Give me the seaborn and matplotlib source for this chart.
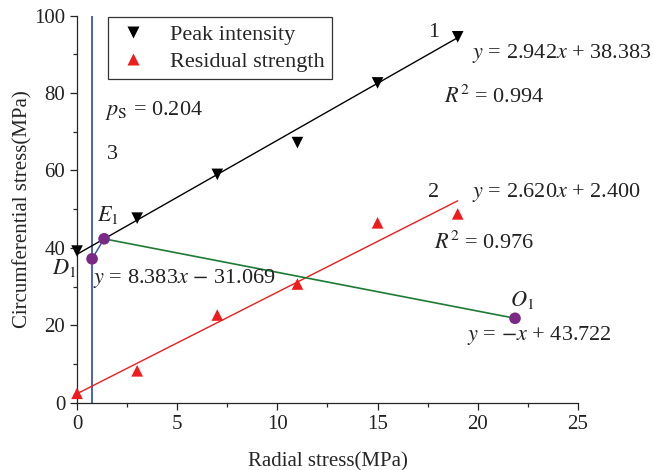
import numpy as np
import pandas as pd
import matplotlib
matplotlib.use("Agg")
import matplotlib.pyplot as plt
from matplotlib.ticker import MultipleLocator
import seaborn as sns

# data
radial = [0, 3, 7, 11, 15, 19]
peak = [39.2, 47.7, 59.0, 67.2, 82.6, 94.5]
residual = [2.5, 8.3, 22.7, 30.7, 46.5, 48.8]

# fit coefficients printed on the chart (slope, intercept)
peak_fit = (2.942, 38.383)
resid_fit = (2.620, 2.400)
fit_x = [0, 19]

# special points
ps_x = 0.75
D1 = (0.75, 37.2)
E1 = (1.35, 42.37)
O1 = (21.86, 21.86)

sns.set_style("ticks")
plt.rcParams['font.family'] = ['Liberation Serif', 'DejaVu Serif']
plt.rcParams['mathtext.fontset'] = 'stix'

fig, ax = plt.subplots(figsize=(6.53, 4.70), dpi=100)
fig.subplots_adjust(left=0.118, right=0.885, bottom=0.1426, top=0.967)

df = pd.DataFrame({'x': radial + radial,
                   'y': peak + residual,
                   'kind': ['Peak intensity'] * 6 + ['Residual strength'] * 6})

# fit lines
fx = np.array(fit_x)
ax.plot(fx, peak_fit[0] * fx + peak_fit[1], color='black', lw=1, zorder=2)
ax.plot(fx, resid_fit[0] * fx + resid_fit[1], color='#ee1c1c', lw=1, zorder=2)

# vertical p_S line and envelope
ax.axvline(ps_x, color='#2b4aa8', lw=1.2, zorder=1)
ax.plot([E1[0], O1[0]], [E1[1], O1[1]], color='#1e7a34', lw=1.2, zorder=2)
ax.plot([D1[0], E1[0]], [D1[1], E1[1]], color='#2b4aa8', lw=1, zorder=2)

sns.scatterplot(data=df, x='x', y='y', hue='kind', style='kind',
                markers={'Peak intensity': 'v', 'Residual strength': '^'},
                palette={'Peak intensity': 'black', 'Residual strength': '#ee1c1c'},
                s=70, edgecolor='none', ax=ax, zorder=3, clip_on=False)

pts = pd.DataFrame({'x': [D1[0], E1[0], O1[0]], 'y': [D1[1], E1[1], O1[1]]})
sns.scatterplot(data=pts, x='x', y='y', color='#7a2a85', s=70, edgecolor='none',
                ax=ax, zorder=4, legend=False)

ax.set_xlim(0, 25)
ax.set_ylim(0, 100)
ax.xaxis.set_major_locator(MultipleLocator(5))
ax.xaxis.set_minor_locator(MultipleLocator(2.5))
ax.yaxis.set_major_locator(MultipleLocator(20))
ax.yaxis.set_minor_locator(MultipleLocator(10))
ax.tick_params(which='major', length=5, width=0.9, labelsize=15, colors='#222222')
ax.tick_params(which='minor', length=3, width=0.9)
sns.despine(ax=ax)
for sp in ax.spines.values():
    sp.set_linewidth(0.9)

ax.set_xlabel('Radial stress(MPa)', fontsize=15, labelpad=13)
ax.set_ylabel('Circumferential stress(MPa)', fontsize=15, labelpad=1)

leg = ax.legend(loc='upper left', bbox_to_anchor=(0.062, 0.995), fontsize=16,
                frameon=True, fancybox=False, edgecolor='black',
                handletextpad=0.9, handlelength=1.6, borderpad=0.3,
                labelspacing=0.3, borderaxespad=0.0, markerscale=1.0)
leg.get_frame().set_linewidth(0.9)

tk = dict(fontsize=16, color='#222222', va='center')
ax.text(17.5, 95.7, '1', **tk)
ax.text(19.7, 90.3, r'$y$ = 2.942$x$ + 38.383', **tk)
ax.text(18.3, 79.0, r'$R^2$ = 0.994', **tk)
ax.text(17.5, 54.2, '2', **tk)
ax.text(19.7, 54.2, r'$y$ = 2.620$x$ + 2.400', **tk)
ax.text(17.8, 41.3, r'$R^2$ = 0.976', **tk)
ax.text(21.6, 26.6, r'$O_1$', **tk)
ax.text(19.45, 17.5, r'$y$ = $-x$ + 43.722', **tk)
ax.text(-1.25, 34.8, r'$D_1$', clip_on=False, **tk)
ax.text(1.0, 48.5, r'$E_1$', **tk)
ax.text(0.8, 32.0, r'$y$ = 8.383$x$ $-$ 31.069', **tk)
ax.text(1.4, 75.6, r'$p_{\mathrm{S}}$ = 0.204', **tk)
ax.text(1.5, 64.0, '3', **tk)

fig.savefig('out.png', dpi=100)
